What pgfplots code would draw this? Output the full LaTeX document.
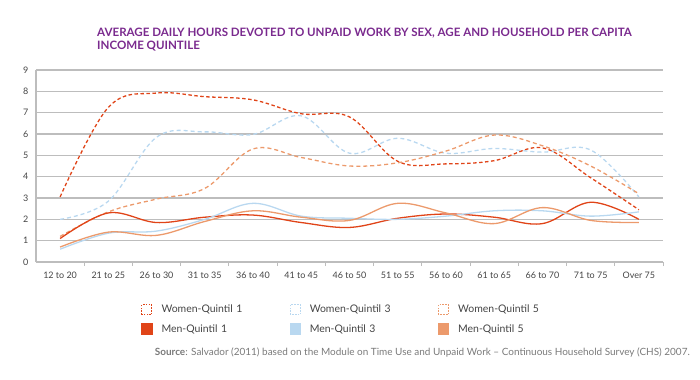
\documentclass[border=0pt]{standalone}
\usepackage{pgfplots}
\pgfplotsset{compat=1.18}
\usepackage{fontspec}
\setmainfont{Lato}
\definecolor{qred}{HTML}{E04418}
\definecolor{qblue}{HTML}{B9D8F0}
\definecolor{qorange}{HTML}{EC9A6C}
\definecolor{ttl}{HTML}{7A2A8E}
\definecolor{gridc}{HTML}{BDBDBD}
\definecolor{txt}{HTML}{444444}
\definecolor{srcc}{HTML}{7A7A7A}
\pgfplotsset{
  womenleg/.style={legend image code/.code={\draw[solid, dash pattern=on 1.6bp off 1.2bp, line width=0.9pt] (0bp,-5bp) rectangle (10bp,5bp);}},
  menleg/.style={legend image code/.code={\fill[solid] (0bp,-5bp) rectangle (10bp,5bp);}},
}
\begin{document}
\begin{tikzpicture}
\path[use as bounding box] (0bp,0bp) rectangle (700bp,380bp);
\node[anchor=base west, text=ttl, font=\fontsize{11.6}{13}\selectfont\bfseries, inner sep=0] at (97bp,343bp) {AVERAGE DAILY HOURS DEVOTED TO UNPAID WORK BY SEX, AGE AND HOUSEHOLD PER CAPITA};
\node[anchor=base west, text=ttl, font=\fontsize{11.6}{13}\selectfont\bfseries, inner sep=0] at (97bp,330bp) {INCOME QUINTILE};
\node[anchor=base east, text=srcc, font=\fontsize{10}{12}\selectfont, inner sep=0] at (690bp,25bp) {\textbf{Source}: Salvador (2011) based on the Module on Time Use and Unpaid Work -- Continuous Household Survey (CHS) 2007.};
\begin{axis}[
  at={(36bp,118bp)}, anchor=south west,
  scale only axis, width=627bp, height=192bp,
  xmin=-0.5, xmax=12.5, ymin=0, ymax=9,
  axis x line*=bottom, axis y line*=left,
  axis line style={gridc, line width=1.2pt},
  xtick={0,...,12},
  xticklabels={12 to 20,21 to 25,26 to 30,31 to 35,36 to 40,41 to 45,46 to 50,51 to 55,56 to 60,61 to 65,66 to 70,71 to 75,Over 75},
  major x tick style={draw=none},
  minor xtick={0.5,1.5,...,11.5,12.5},
  minor tick length=4bp,
  minor x tick style={gridc, line width=1pt},
  tick align=outside,
  ytick={0,...,9},
  major y tick style={draw=none},
  ymajorgrids, grid style={gridc, line width=1.2pt},
  tick label style={font=\fontsize{9}{10}\selectfont, text=txt},
  /pgf/number format/assume math mode=true,
  xticklabel style={yshift=-2bp},
  legend columns=3,
  legend style={at={(0.1675,-0.214)}, anchor=north west, draw=none, fill=none,
    inner sep=0pt, font=\fontsize{10.5}{12}\selectfont, text=txt,
    /tikz/every odd column/.append style={column sep=7bp},
    /tikz/every even column/.append style={column sep=0bp},
    nodes={text width=126bp, align=left, inner sep=2bp},
    row sep=6bp},
  legend cell align=left,
  every axis plot/.append style={smooth, tension=0.6, line width=1.3pt},
]
\addplot[qred, dash pattern=on 3.5bp off 2.5bp, womenleg] coordinates {(0,3.05)(1,7.25)(2,7.92)(3,7.75)(4,7.6)(5,6.95)(6,6.8)(7,4.72)(8,4.6)(9,4.75)(10,5.35)(11,3.95)(12,2.45)};
\addlegendentry{Women-Quintil 1}
\addplot[qblue, dash pattern=on 4bp off 3bp, womenleg] coordinates {(0,2.0)(1,2.85)(2,5.85)(3,6.1)(4,5.98)(5,6.85)(6,5.1)(7,5.8)(8,5.1)(9,5.32)(10,5.15)(11,5.25)(12,3.05)};
\addlegendentry{Women-Quintil 3}
\addplot[qorange, dash pattern=on 4bp off 3bp, womenleg] coordinates {(0,1.2)(1,2.35)(2,2.95)(3,3.45)(4,5.3)(5,4.9)(6,4.5)(7,4.65)(8,5.2)(9,5.95)(10,5.45)(11,4.5)(12,3.2)};
\addlegendentry{Women-Quintil 5}
\addplot[qred, menleg] coordinates {(0,1.1)(1,2.3)(2,1.85)(3,2.1)(4,2.2)(5,1.85)(6,1.62)(7,2.05)(8,2.25)(9,2.1)(10,1.8)(11,2.8)(12,2.0)};
\addlegendentry{Men-Quintil 1}
\addplot[qblue, menleg] coordinates {(0,0.6)(1,1.35)(2,1.45)(3,2.0)(4,2.75)(5,2.15)(6,2.05)(7,2.0)(8,2.15)(9,2.4)(10,2.4)(11,2.15)(12,2.35)};
\addlegendentry{Men-Quintil 3}
\addplot[qorange, menleg] coordinates {(0,0.7)(1,1.4)(2,1.25)(3,1.9)(4,2.4)(5,2.1)(6,1.95)(7,2.75)(8,2.3)(9,1.8)(10,2.55)(11,1.95)(12,1.85)};
\addlegendentry{Men-Quintil 5}
\end{axis}
\end{tikzpicture}
\end{document}
